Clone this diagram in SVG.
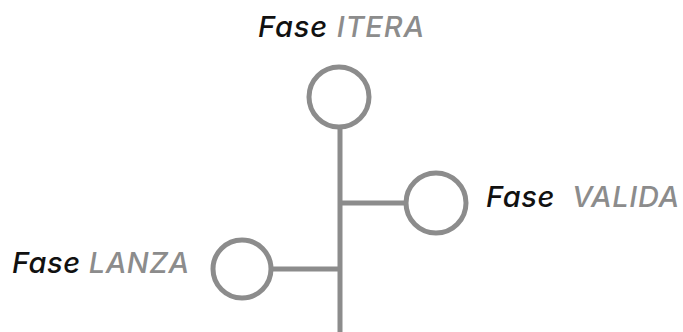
<svg xmlns="http://www.w3.org/2000/svg" width="683" height="332" viewBox="0 0 683 332">
  <style>
    .node circle { fill: #ffffff; stroke: #8c8c8c; stroke-width: 5; }
    .edge { stroke: #8c8c8c; stroke-width: 5; fill: none; }
    .label { font-family: Inter, "Liberation Sans", sans-serif; font-style: italic; font-weight: 500; font-size: 29px; letter-spacing: 1px; fill: #111111; }
    .phase { fill: #8c8c8c; }
  </style>
  <rect width="683" height="332" fill="#ffffff"/>
  <g id="connectors">
    <line class="edge" x1="340" y1="127" x2="340" y2="332"/>
    <line class="edge" x1="340" y1="203" x2="406" y2="203"/>
    <line class="edge" x1="273" y1="269" x2="340" y2="269"/>
  </g>
  <g id="itera" class="node">
    <circle cx="339" cy="97" r="30"/>
    <text class="label" x="258" y="37" textLength="167" lengthAdjust="spacing">Fase <tspan class="phase">ITERA</tspan></text>
  </g>
  <g id="valida" class="node">
    <circle cx="436" cy="203" r="30"/>
    <text class="label" x="486" y="207" xml:space="preserve" textLength="194" lengthAdjust="spacing">Fase  <tspan class="phase">VALIDA</tspan></text>
  </g>
  <g id="lanza" class="node">
    <circle cx="242" cy="269" r="29"/>
    <text class="label" x="12" y="273" textLength="178" lengthAdjust="spacing">Fase <tspan class="phase">LANZA</tspan></text>
  </g>
</svg>
